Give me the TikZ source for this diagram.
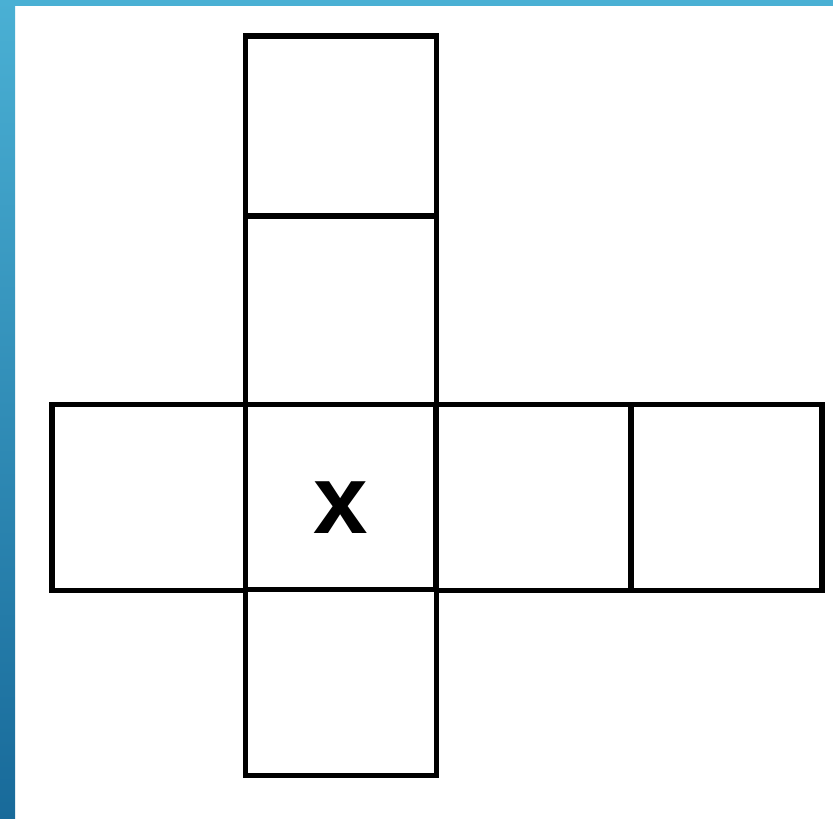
\documentclass[tikz,border=0pt]{standalone}
\usepackage{fontspec}
\setmainfont{Liberation Sans}
\definecolor{stripTop}{RGB}{74, 176, 212}
\definecolor{stripBot}{RGB}{24, 106, 154}
\usetikzlibrary{positioning}
\tikzset{
  face/.style={rectangle, draw=black, line width=5.5pt, fill=white,
               minimum width=191pt, minimum height=186pt,
               inner sep=0pt, outer sep=0pt},
  facemark/.style={font=\fontsize{98}{98}\selectfont\bfseries,
                   text height=72pt, text depth=0pt},
}

\begin{document}
\begin{tikzpicture}[x=1pt, y=-1pt]
    \useasboundingbox (0,0) rectangle (833,819);
    \fill[white] (0,0) rectangle (833,819);
    % blue strips along the edges
    \shade[top color=stripTop, bottom color=stripBot] (0,0) rectangle (15,819);
    \fill[stripTop] (0,0) rectangle (833,6);

    % the net
    \node[face, minimum height=180pt] (F1) at (341,126) {};
    \node[face, minimum height=189pt] (F2) at (341,310.5) {};
    \node[face, minimum width=194pt] (F3) at (149,497.5) {};
    \node[face, facemark] (F4) at (341,497.5) {x};
    \node[face, minimum width=195pt] (F5) at (533.5,497.5) {};
    \node[face] (F6) at (726.5,497.5) {};
    \node[face] (F7) at (341,682.5) {};
  \end{tikzpicture}
\end{document}
